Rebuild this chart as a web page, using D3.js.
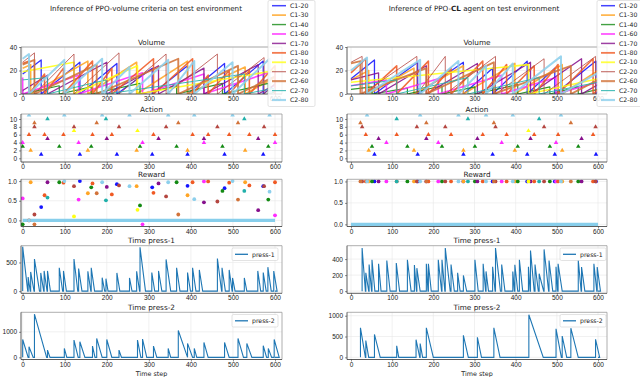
<!DOCTYPE html>
<html>
<head>
<meta charset="utf-8">
<script src="https://cdn.jsdelivr.net/npm/d3@7"></script>
<style>
	body { margin: 0; background: #fff; }
	svg { font-family: 'DejaVu Sans', sans-serif; }
	.tick text { font-size: 6.5px; fill: #222; }
	.tick line { stroke: #444; stroke-width: 0.6; }
	.domain { display: none; }
</style>
</head>
<body>
<svg id="chart" width="640" height="377"></svg>
<script>
// ---- products shared by both panels
const PRODUCTS = ['C1-20', 'C1-30', 'C1-40', 'C1-60', 'C1-70', 'C1-80', 'C2-10', 'C2-20', 'C2-60', 'C2-70', 'C2-80']
const COLORS = ['#1414ff', '#ffa526', '#138a13', '#ff2cff', '#86108c', '#f05a24', '#ffff14', '#b44640', '#d2733a', '#20b0aa', '#8ccfec']
const LINE_W = [1.3, 1.6, 1.2, 1.6, 1.3, 1.6, 1.6, 0.9, 1.9, 1.0, 2.0]

const X_TICKS = [0, 100, 200, 300, 400, 500, 600]
const VOL_TICKS = [0, 20, 40]
const ACT_TICKS = [0, 2, 4, 6, 8, 10]
const REW_TICKS = [0, 0.5, 1]

// ---- left panel: PPO-volume criteria
// action steps per product (volume drops to 0 there), volume reached just before, reward got
const L_TIMES = [
	[44, 136, 224, 308, 392, 480, 572],
	[19, 155, 271, 392, 529],
	[0, 87, 163, 279, 366, 475, 584],
	[0, 133, 285, 431, 600],
	[59, 200, 323, 431, 560],
	[15, 52, 97, 166, 212, 311, 404, 441, 491, 539, 600],
	[122, 273],
	[28, 122, 229, 341, 463, 574],
	[28, 176, 370, 512],
	[59, 198, 527],
	[15, 99, 189, 254, 346, 408, 499, 587]
]
const L_PEAKS = [
	[29, 27, 26, 22, 24, 26, 28],
	[25, 28, 27, 28, 23],
	[3, 7, 6, 9, 7, 9, 9],
	[14, 16, 18, 17, 20],
	[16, 27, 24, 22, 25],
	[28, 17, 22, 28, 22, 30, 30, 16, 20, 20, 24],
	[27, 24],
	[35, 34, 35, 34, 34, 31],
	[29, 25, 30, 24],
	[14, 12, 17],
	[34, 29, 30, 23, 29, 28, 27, 30]
]
const L_START = [17, 22, 3, 14, 3, 26, 19, 27, 25, 12, 30]
const L_END = [8, 14, 2, 0, 8, 0, 20, 9, 15, 5, 5]
const L_REWARD = [
	[0.34, 1.0, 0.92, 0.84, 0.88, 0.82, 0.87],
	[0.97, 0.69, 0.87, 0.64, 0.97],
	[-0.1, 0.97, 0.84, 0.38, 0.97, 0.75, 0.53],
	[0.56, 0.53, -0.1, 0.99, 0.13],
	[0.97, 0.85, 0.94, 0.46, 0.26],
	[0.0, 0.64, 0.96, 0.94, 0.66, 0.7, 0.97, 0.99, 0.96, 0.89, 0.97],
	[0.1, 0.27],
	[0.15, 0.87, 0.89, 0.61, 0.48, 0.87],
	[-0.1, 0.69, 0.15, 0.53],
	[0.58, 0.51, 0.75],
	[0.0, 1.0, 0.97, 0.87, 0.97, 0.54, 1.0, 0.73]
]
// press spikes: [step, height, step back at 0]
const L_PRESS1 = [
	[0, 776, 12], [13, 247, 18], [19, 335, 27], [28, 560, 40], [43, 318, 50], [51, 353, 58],
	[59, 353, 66], [87, 406, 95], [97, 353, 104], [122, 560, 131], [133, 394, 141], [155, 347, 162],
	[163, 406, 171], [189, 235, 195], [198, 218, 203], [224, 318, 231], [254, 230, 260], [271, 347, 278],
	[279, 765, 292], [307, 324, 314], [323, 353, 331], [341, 553, 352], [366, 406, 374], [392, 324, 399],
	[404, 406, 412], [420, 370, 428], [463, 570, 473], [474, 406, 482], [491, 370, 498], [499, 230, 505],
	[527, 230, 533], [559, 353, 566], [572, 324, 579], [583, 418, 591], [597, 350, 605]
]
const L_PRESS2 = [
	[0, 700, 13], [15, 415, 25], [28, 1690, 57], [59, 285, 65], [99, 350, 105], [122, 675, 132],
	[136, 610, 148], [166, 440, 172], [176, 740, 189], [200, 700, 212], [229, 285, 235], [273, 675, 281],
	[285, 715, 295], [311, 440, 319], [346, 350, 352], [370, 1050, 392], [392, 545, 404], [408, 350, 414],
	[431, 585, 441], [480, 585, 491], [512, 740, 525], [533, 545, 545], [572, 455, 580], [584, 350, 592],
	[598, 700, 610]
]

// ---- right panel: PPO-CL agent
const R_TIMES = [
	[57, 162, 273, 344, 428, 495, 595],
	[43, 153, 273, 398, 513],
	[51, 137, 221, 301, 405, 483, 552],
	[86, 212, 366, 498],
	[67, 183, 307, 436, 560],
	[36, 111, 188, 243, 320, 378, 445, 503, 588],
	[431],
	[27, 160, 229, 351, 469, 594],
	[23, 183, 347, 534],
	[111, 284, 457],
	[39, 168, 261, 328, 393, 510]
]
const R_PEAKS = [
	[29, 27, 27, 22, 28, 22, 28],
	[20, 22, 24, 26, 25],
	[6, 5, 7, 6, 8, 6, 6],
	[12, 13, 16, 14],
	[18, 24, 26, 27, 30],
	[30, 24, 28, 22, 28, 25, 24, 25, 30],
	[25],
	[32, 32, 32, 32, 30, 32],
	[28, 22, 27, 24],
	[12, 14, 14],
	[31, 29, 28, 24, 26, 32]
]
const R_START = [13, 12, 4, 7, 12, 18, 10, 27, 26, 7, 20]
const R_END = [2, 20, 4, 10, 8, 4, 13, 2, 12, 10, 18]
const R_REWARD = [
	[1, 1, 1, 1, 1, 1, 1],
	[1, 1, 1, 1, 1],
	[1, 1, 1, 1, 1, 1, 1],
	[1, 1, 1, 1],
	[1, 1, 1, 1, 1],
	[1, 1, 1, 1, 1, 1, 1, 1, 1],
	[1],
	[1, 1, 1, 1, 1, 1],
	[1, 1, 1, 1],
	[1, 1, 1],
	[1, 1, 1, 1, 1, 1]
]
const R_PRESS1 = [
	[27, 537, 35], [36, 229, 43], [44, 333, 50], [51, 392, 58], [67, 342, 73], [87, 383, 95],
	[110, 350, 118], [137, 392, 146], [154, 325, 159], [160, 287, 168], [183, 342, 187], [188, 342, 195],
	[212, 392, 220], [221, 392, 228], [229, 537, 241], [243, 333, 251], [259, 229, 265], [273, 196, 281],
	[301, 392, 309], [321, 342, 327], [328, 246, 334], [344, 304, 350], [351, 537, 363], [366, 333, 374],
	[393, 246, 397], [398, 329, 405], [409, 392, 417], [431, 304, 435], [436, 508, 445], [447, 333, 455],
	[457, 217, 468], [469, 521, 480], [481, 383, 490], [498, 304, 502], [503, 342, 513], [552, 388, 559],
	[560, 300, 568], [590, 342, 597], [598, 300, 606]
]
const R_PRESS2 = [
	[23, 709, 35], [36, 402, 43], [57, 551, 71], [111, 276, 116], [158, 425, 167], [168, 331, 174],
	[183, 709, 200], [273, 528, 285], [307, 480, 317], [347, 709, 362], [432, 1024, 467], [498, 685, 511],
	[513, 512, 524], [534, 701, 552], [594, 433, 604]
]

const ROWS = {
	volume: [47, 94],
	action: [114, 162],
	reward: [179.3, 226.5],
	press1: [245.7, 293.3],
	press2: [312.3, 359.5]
}

const svg = d3.select('#chart')
let clip_id = 0

function volumePoints(times, peaks, start, end) {
	const pts = [[0, start]]
	times.forEach((t, i) => {
		pts.push([t, peaks[i]], [t, 0])
	})
	pts.push([600, end])
	return pts
}

function pressPoints(spikes) {
	const pts = []
	spikes.forEach(([t, h, e]) => {
		pts.push([t, 0], [t, h], [e, 0])
	})
	pts.push([600, 0])
	return pts
}

function subplot(g, x, row, yDomain, yTicks, fmt, title) {
	const y = d3.scaleLinear().domain(yDomain).range([ROWS[row][1], ROWS[row][0]])
	const [x0, x1] = x.range()
	const [yb, yt] = y.range()
	const sub = g.append('g')

	sub.append('g').selectAll('line').data(X_TICKS).join('line')
		.attr('x1', (d) => x(d)).attr('x2', (d) => x(d))
		.attr('y1', yt).attr('y2', yb)
		.attr('stroke', '#e8e8e8').attr('stroke-width', 0.6)
	sub.append('g').selectAll('line').data(yTicks).join('line')
		.attr('x1', x0).attr('x2', x1)
		.attr('y1', (d) => y(d)).attr('y2', (d) => y(d))
		.attr('stroke', '#e8e8e8').attr('stroke-width', 0.6)

	const id = 'clip' + clip_id++
	sub.append('clipPath').attr('id', id)
		.append('rect').attr('x', x0).attr('y', yt).attr('width', x1 - x0).attr('height', yb - yt)
	const plot = sub.append('g').attr('clip-path', `url(#${id})`)

	sub.append('g').attr('transform', `translate(0,${yb})`)
		.call(d3.axisBottom(x).tickValues(X_TICKS).tickSize(2).tickPadding(0.5))
	sub.append('g').attr('transform', `translate(${x0},0)`)
		.call(d3.axisLeft(y).tickValues(yTicks).tickFormat(fmt).tickSize(2).tickPadding(2))

	sub.append('text')
		.attr('x', (x0 + x1) / 2).attr('y', yt - 2.5)
		.attr('text-anchor', 'middle').attr('font-size', 7.3).attr('fill', '#222')
		.text(title)

	return { y, plot, sub, frame: [x0, x1, yt, yb] }
}

function spines(s) {
	const [x0, x1, yt, yb] = s.frame
	s.sub.append('path').attr('d', `M${x0},${yt}H${x1}V${yb}`)
		.attr('fill', 'none').attr('stroke', '#9a9a9a').attr('stroke-width', 0.8)
	s.sub.append('path').attr('d', `M${x0},${yt}V${yb}H${x1}`)
		.attr('fill', 'none').attr('stroke', '#333').attr('stroke-width', 0.8)
}

function smallLegend(g, lx, ly, label) {
	const lg = g.append('g').attr('transform', `translate(${lx},${ly})`)
	lg.append('rect').attr('width', 46).attr('height', 12.5).attr('rx', 1.5)
		.attr('fill', '#fff').attr('fill-opacity', 0.85).attr('stroke', '#d0d0d0').attr('stroke-width', 0.6)
	lg.append('line').attr('x1', 3).attr('x2', 16).attr('y1', 6.3).attr('y2', 6.3)
		.attr('stroke', '#1f77b4').attr('stroke-width', 1.3)
	lg.append('text').attr('x', 20).attr('y', 8.5).attr('font-size', 6.2).attr('fill', '#222').text(label)
}

function drawPanel(ox, p) {
	const g = svg.append('g')
	const x = d3.scaleLinear().domain(p.xDomain).range(p.xRange)
	const line = (y) => d3.line().x((d) => x(d[0])).y((d) => y(d[1]))

	// title
	const title = g.append('text').attr('x', p.titleX).attr('y', 11)
		.attr('text-anchor', 'middle').attr('font-size', 7.2).attr('fill', '#222')
	p.title.forEach(([t, bold]) => title.append('tspan').attr('font-weight', bold ? 'bold' : 'normal').text(t))

	// volume
	const vol = subplot(g, x, 'volume', [0, 40], VOL_TICKS, d3.format('d'), 'Volume')
	PRODUCTS.forEach((name, i) => {
		vol.plot.append('path')
			.datum(volumePoints(p.times[i], p.peaks[i], p.start[i], p.end[i]))
			.attr('d', line(vol.y))
			.attr('fill', 'none').attr('stroke', COLORS[i]).attr('stroke-width', LINE_W[i])
			.attr('stroke-opacity', 0.88).attr('stroke-linejoin', 'round')
	})
	spines(vol)

	// action
	const act = subplot(g, x, 'action', [-0.94, 11.27], ACT_TICKS, d3.format('d'), 'Action')
	PRODUCTS.forEach((name, i) => {
		act.plot.append('g').selectAll('path').data(p.times[i]).join('path')
			.attr('transform', (t) => `translate(${x(t)},${act.y(i + 1)})`)
			.attr('d', d3.symbol(d3.symbolTriangle, 9))
			.attr('fill', COLORS[i])
	})
	spines(act)

	// reward
	const rew = subplot(g, x, 'reward', p.rewardDomain, REW_TICKS, d3.format('.1f'), 'Reward')
	rew.plot.append('line')
		.attr('x1', x(0)).attr('x2', x(600)).attr('y1', rew.y(0)).attr('y2', rew.y(0))
		.attr('stroke', '#87ceeb').attr('stroke-width', 3.3)
	PRODUCTS.forEach((name, i) => {
		rew.plot.append('g').selectAll('circle').data(p.times[i]).join('circle')
			.attr('cx', (t) => x(t))
			.attr('cy', (t, j) => rew.y(p.reward[i][j]))
			.attr('r', 1.9)
			.attr('fill', COLORS[i])
	})
	spines(rew)

	// press lines
	const pr1 = subplot(g, x, 'press1', p.p1Domain, p.p1Ticks, d3.format('d'), 'Time press-1')
	pr1.plot.append('path').datum(pressPoints(p.press1)).attr('d', line(pr1.y))
		.attr('fill', 'none').attr('stroke', '#1f77b4').attr('stroke-width', 1.1)
	spines(pr1)
	smallLegend(g, p.legendX, 248, 'press-1')

	const pr2 = subplot(g, x, 'press2', p.p2Domain, p.p2Ticks, d3.format('d'), 'Time press-2')
	pr2.plot.append('path').datum(pressPoints(p.press2)).attr('d', line(pr2.y))
		.attr('fill', 'none').attr('stroke', '#1f77b4').attr('stroke-width', 1.1)
	spines(pr2)
	smallLegend(g, p.legendX, 314.5, 'press-2')

	g.append('text').attr('x', (p.xRange[0] + p.xRange[1]) / 2).attr('y', 375.5)
		.attr('text-anchor', 'middle').attr('font-size', 6.4).attr('fill', '#222')
		.text('Time step')

	// volume legend
	const lg = g.append('g').attr('transform', `translate(${p.volLegendX},0.5)`)
	lg.append('rect').attr('width', 47).attr('height', 106).attr('rx', 1.5)
		.attr('fill', '#fff').attr('fill-opacity', 0.85).attr('stroke', '#d0d0d0').attr('stroke-width', 0.6)
	PRODUCTS.forEach((name, i) => {
		const yy = 5.2 + i * 9.43
		lg.append('line').attr('x1', 4).attr('x2', 18).attr('y1', yy).attr('y2', yy)
			.attr('stroke', COLORS[i]).attr('stroke-width', LINE_W[i] + 0.2).attr('stroke-opacity', 0.8)
		lg.append('text').attr('x', 22).attr('y', yy + 2.2).attr('font-size', 6.2).attr('fill', '#222').text(name)
	})
}

drawPanel(0, {
	title: [['Inference of PPO-volume criteria on test environment', false]],
	titleX: 146,
	xDomain: [-4, 616.6], xRange: [21, 282],
	times: L_TIMES, peaks: L_PEAKS, start: L_START, end: L_END, reward: L_REWARD,
	rewardDomain: [-0.155, 1.045],
	press1: L_PRESS1, p1Domain: [-38, 793], p1Ticks: [0, 500],
	press2: L_PRESS2, p2Domain: [-84, 1764], p2Ticks: [0, 1000],
	legendX: 232, volLegendX: 268
})

drawPanel(320, {
	title: [['Inference of PPO-', false], ['CL', true], [' agent on test environment', false]],
	titleX: 474,
	xDomain: [-9.7, 621.8], xRange: [347, 607],
	times: R_TIMES, peaks: R_PEAKS, start: R_START, end: R_END, reward: R_REWARD,
	rewardDomain: [-0.05, 1.05],
	press1: R_PRESS1, p1Domain: [-27, 567], p1Ticks: [0, 200, 400],
	press2: R_PRESS2, p2Domain: [-52, 1082], p2Ticks: [0, 500, 1000],
	legendX: 560, volLegendX: 597
})
</script>
</body>
</html>
